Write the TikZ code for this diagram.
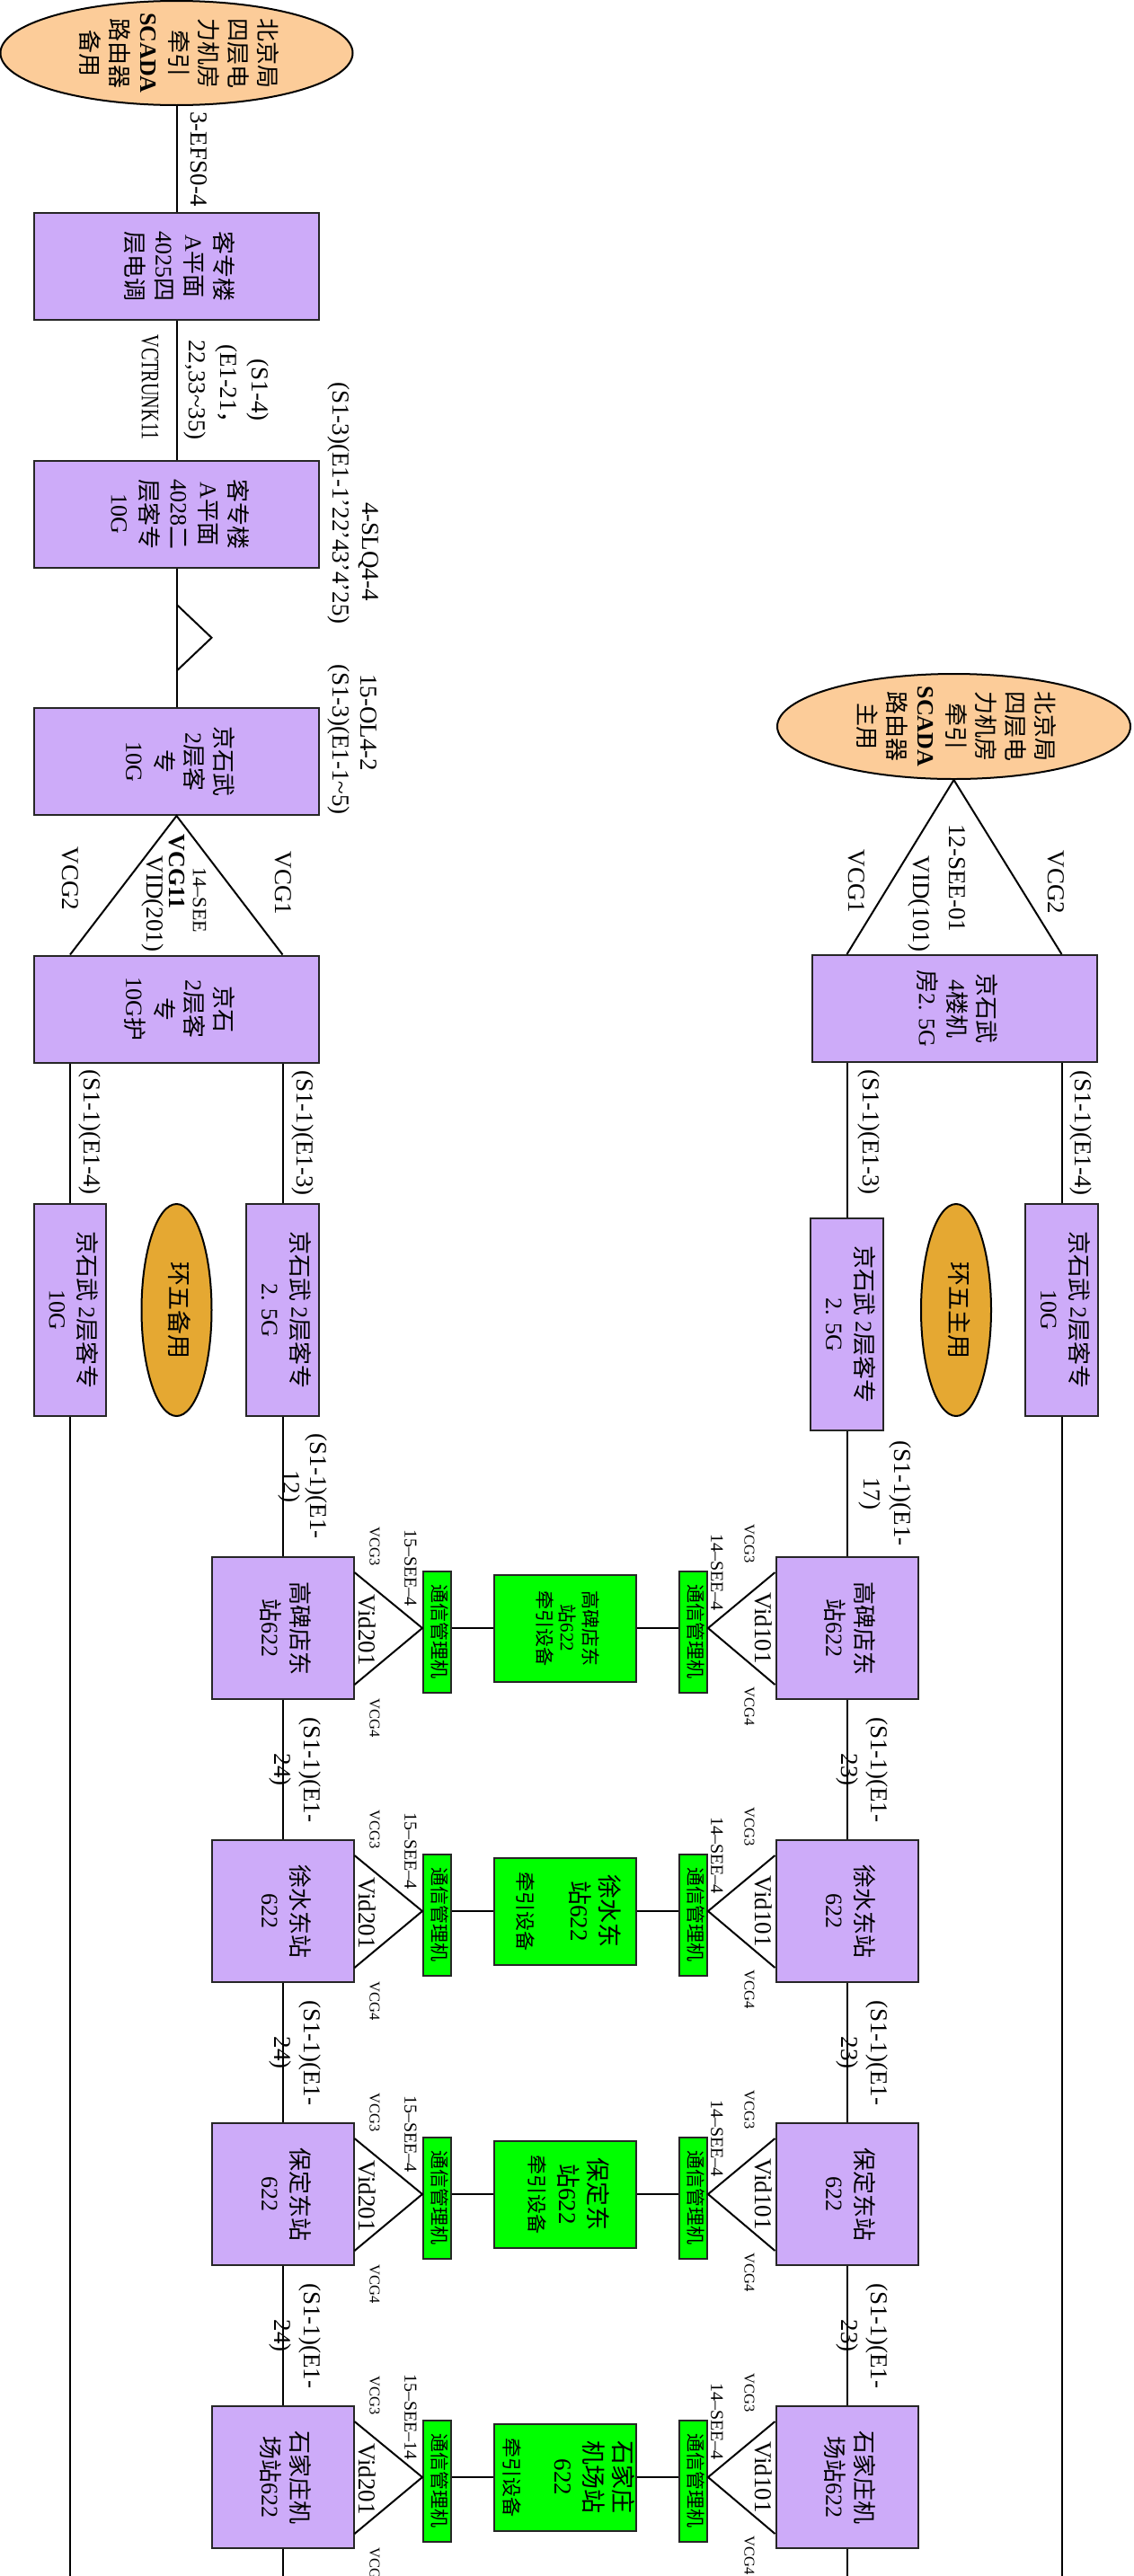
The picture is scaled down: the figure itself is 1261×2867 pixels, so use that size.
\documentclass[tikz,border=0pt]{standalone}
\usepackage{fontspec}
\usepackage{graphicx}
\usetikzlibrary{shapes.geometric,calc}
\setmainfont{Liberation Serif}
\newfontfamily\cjkfont{Noto Sans CJK SC}
% switch to the CJK face automatically for Han characters and full-width forms
\chardef\hanclass=7
\newcount\hanchar
\hanchar="2E80
\loop\ifnum\hanchar<"A000 \XeTeXcharclass\hanchar=\hanclass \advance\hanchar by 1 \repeat
\hanchar="FF00
\loop\ifnum\hanchar<"FFF0 \XeTeXcharclass\hanchar=\hanclass \advance\hanchar by 1 \repeat
\XeTeXinterchartoks 0 \hanclass = {\cjkfont}
\XeTeXinterchartoks 4095 \hanclass = {\cjkfont}
\XeTeXinterchartoks 255 \hanclass = {\cjkfont}
\XeTeXinterchartoks \hanclass 0 = {\rmfamily}
\XeTeXinterchartoks \hanclass 4095 = {\rmfamily}
\XeTeXinterchartoks \hanclass 255 = {\rmfamily}
\XeTeXinterchartokenstate=1

\definecolor{pfill}{RGB}{205,171,249}
\definecolor{peachfill}{RGB}{252,204,153}
\definecolor{amberfill}{RGB}{229,168,50}
\definecolor{gfill}{RGB}{0,255,0}

% text set top-to-bottom inside shapes
\newcommand\vt[1]{\rotatebox{-90}{\begin{tabular}{@{}c@{}}#1\end{tabular}}}

\tikzset{
  box/.style={rectangle, draw=black!85, line width=2pt, fill=pfill, inner sep=0pt,
              font=\fontsize{26}{33}\selectfont},
  oval/.style={ellipse, draw=black, line width=2pt, inner sep=0pt,
               font=\fontsize{27}{33}\selectfont},
  gsmall/.style={box, fill=gfill, minimum width=31, minimum height=135,
                 font=\fontsize{21}{25}\selectfont},
  gbig/.style={box, fill=gfill, minimum width=158, minimum height=119,
               font=\fontsize{27}{33}\selectfont},
  txt/.style={inner sep=0pt, font=\fontsize{26}{33}\selectfont},
  lbl/.style={rotate=-90, inner sep=0pt, align=center, font=\fontsize{27}{33}\selectfont},
  tiny/.style={lbl, font=\fontsize{16.5}{20}\selectfont},
  see/.style={lbl, font=\fontsize{20}{24}\selectfont},
}

\begin{document}
\begin{tikzpicture}[x=1pt, y=-1pt, line width=2pt]
\useasboundingbox (0,0) rectangle (1261,2867);
\fill[white] (0,0) rectangle (1261,2867);
\clip (0,0) rectangle (1261,2867);
\coordinate (floor) at (0,2875);

% ---------- left trunk ----------
\node[oval, fill=peachfill, minimum width=392, minimum height=116] (e1) at (196.5,59) {};
\node[txt] (e1t) at (e1) {\vt{北京局\\四层电\\力机房\\牵引\\\textbf{SCADA}\\路由器\\备用}};
\node[box, minimum width=317, minimum height=119] (b1) at (196.5,296.5) {\vt{客专楼\\A平面\\4025四\\层电调}};
\node[box, minimum width=317, minimum height=119] (b2) at (196.5,572) {\vt{客专楼\\A平面\\4028二\\层客专\\10G}};
\node[box, minimum width=317, minimum height=119] (b3) at (196.5,847.5) {\vt{京石武\\2层客\\专\\10G}};
\node[box, minimum width=317, minimum height=119] (b4) at (196.5,1123) {\vt{京石\\2层客\\专\\10G护}};
\node[box, minimum width=80, minimum height=236] (b5) at (78,1458) {\vt{京石武 2层客专\\10G}};
\node[oval, fill=amberfill, minimum width=78, minimum height=236] (o1) at (196.5,1458) {\vt{环五备用}};
\node[box, minimum width=81, minimum height=236] (b6) at (314.5,1458) {\vt{京石武 2层客专\\2. 5G}};

\draw (e1) -- (b1);
\draw (b1) -- (b2);
\draw (b2) -- (b3);
\draw ($(b2.south)!0.5!(b3.north)+(0,-37)$) -- ++(39,37) -- ++(-39,37);
\draw (b5.north |- b4.north) -- (b3.south) -- (b6.north |- b4.north);
\draw (b5.north |- b4.south) -- (b5.north);
\draw (b6.north |- b4.south) -- (b6.north);
\draw (b5.south) -- (b5.south |- floor);

\node[lbl] (t1) at (221,177) {3-EFS0-4};
\node[lbl, font=\fontsize{27}{35}\selectfont] (t2) at (252,434) {(S1-4)\\(E1-21，\\22,33\char"7E 35)};
\node[lbl, font=\fontsize{28}{33}\selectfont] (t3) at (167,431) {\scalebox{0.72}[1]{VCTRUNK11}};
\node[lbl] (t4) at (410,614) {4-SLQ4-4};
\node[lbl] (t5) at (377,560) {(S1-3)(E1-1'22'43'4'25)};
\node[lbl] (t6) at (410,804) {15-OL4-2};
\node[lbl] (t7) at (377,823) {(S1-3)(E1-1\char"7E 5)};
\node[lbl] (t8) at (315,983) {VCG1};
\node[lbl] (t9) at (78,978) {VCG2};
\node[lbl, font=\fontsize{22}{26}\selectfont] (t10) at (222,1002) {14--SEE};
\node[lbl, font=\bfseries\fontsize{26}{30}\selectfont] (t11) at (197,970) {VCG11};
\node[lbl] (t12) at (170,1006) {VID(201)};
\node[lbl] (t13) at (100,1260) {(S1-1)(E1-4)};
\node[lbl] (t14) at (337,1261) {(S1-1)(E1-3)};

% ---------- right trunk ----------
\node[oval, fill=peachfill, minimum width=393, minimum height=117] (e2) at (1061.5,808.5) {};
\node[txt] (e2t) at (e2) {\vt{北京局\\四层电\\力机房\\牵引\\\textbf{SCADA}\\路由器\\主用}};
\node[box, minimum width=317, minimum height=119] (k1) at (1062.5,1122.5) {\vt{京石武\\4楼机\\房2. 5G}};
\node[box, minimum width=81, minimum height=236] (k2) at (942.5,1474) {\vt{京石武 2层客专\\2. 5G}};
\node[oval, fill=amberfill, minimum width=78, minimum height=236] (o2) at (1064,1458) {\vt{环五主用}};
\node[box, minimum width=81, minimum height=236] (k3) at (1181.5,1458) {\vt{京石武 2层客专\\10G}};

\draw (k2.north |- k1.north) -- (e2.south) -- (k3.north |- k1.north);
\draw (k2.north |- k1.south) -- (k2.north);
\draw (k3.north |- k1.south) -- (k3.north);
\draw (k3.south) -- (k3.south |- floor);

\node[lbl] (u1) at (953,981) {VCG1};
\node[lbl] (u2) at (1175,982) {VCG2};
\node[lbl] (u3) at (1065,977) {12-SEE-01};
\node[lbl] (u4) at (1023,1006) {VID(101)};
\node[lbl] (u5) at (967,1260) {(S1-1)(E1-3)};
\node[lbl] (u6) at (1203,1261) {(S1-1)(E1-4)};

% ---------- stations ----------
\foreach \i/\cy/\sta/\equ/\see in {
  1/1812/{高碑店东\\站622}/{\fontsize{21}{25}\selectfont\vt{高碑店东\\站622\\牵引设备}}/{15--SEE--4},
  2/2127/{徐水东站\\622}/{\vt{徐水东\\站622\\[26pt]\fontsize{22}{26}\selectfont 牵引设备}}/{15--SEE--4},
  3/2442/{保定东站\\622}/{\vt{保定东\\站622\\\fontsize{22}{26}\selectfont 牵引设备}}/{15--SEE--4},
  4/2757/{石家庄机\\场站622}/{\vt{石家庄\\机场站\\622\\[23pt]\fontsize{22}{26}\selectfont 牵引设备}}/{15--SEE--14}}{
  \node[box, minimum width=158, minimum height=158] (ls\i) at (314.5,\cy) {\vt{\sta}};
  \node[gsmall] (gl\i) at (486.5,\cy+4) {\vt{通信管理机}};
  \node[gbig] (gc\i) at (629,\cy) {\equ};
  \node[gsmall] (gr\i) at (771.5,\cy+4) {\vt{通信管理机}};
  \node[box, minimum width=158, minimum height=158] (rs\i) at (942.5,\cy) {\vt{\sta}};
  \draw ($(ls\i.east)+(0,-62)$) -- (gl\i.west |- ls\i.east) -- ($(ls\i.east)+(0,63)$);
  \draw (gl\i.east |- gc\i.west) -- (gc\i.west);
  \draw (gc\i.east) -- (gr\i.west |- gc\i.east);
  \draw ($(rs\i.west)+(0,-62)$) -- (gr\i.east |- rs\i.west) -- ($(rs\i.west)+(0,63)$);
  \node[tiny] (al\i) at (417,\cy-91) {VCG3};
  \node[see] (bl\i) at (457,\cy-67) {\see};
  \node[tiny] (cl\i) at (417,\cy+100) {VCG4};
  \node[lbl] (dl\i) at (409,\cy+2) {Vid201};
  \node[tiny] (ar\i) at (834,\cy-94) {VCG3};
  \node[see] (br\i) at (798,\cy-62) {14--SEE--4};
  \node[tiny] (cr\i) at (834,\cy+87) {VCG4};
  \node[lbl] (dr\i) at (850,\cy) {Vid101};
}

\draw (b6.south) -- (ls1.north);
\draw (k2.south) -- (rs1.north);
\node[lbl, font=\fontsize{27}{30}\selectfont] (c0l) at (337,1654) {(S1-1)(E1-\\12)};
\node[lbl, font=\fontsize{27}{34}\selectfont] (c0r) at (985,1662) {(S1-1)(E1-\\17)};

\foreach \a/\b/\my in {1/2/1969.5, 2/3/2284.5, 3/4/2599.5}{
  \draw (ls\a) -- (ls\b);
  \draw (rs\a) -- (rs\b);
  \node[lbl] (ml\a) at (328.5,\my) {(S1-1)(E1-\\24)};
  \node[lbl] (mr\a) at (959,\my) {(S1-1)(E1-\\23)};
}
\draw (ls4.south) -- (ls4.south |- floor);
\draw (rs4.south) -- (rs4.south |- floor);
\end{tikzpicture}
\end{document}
